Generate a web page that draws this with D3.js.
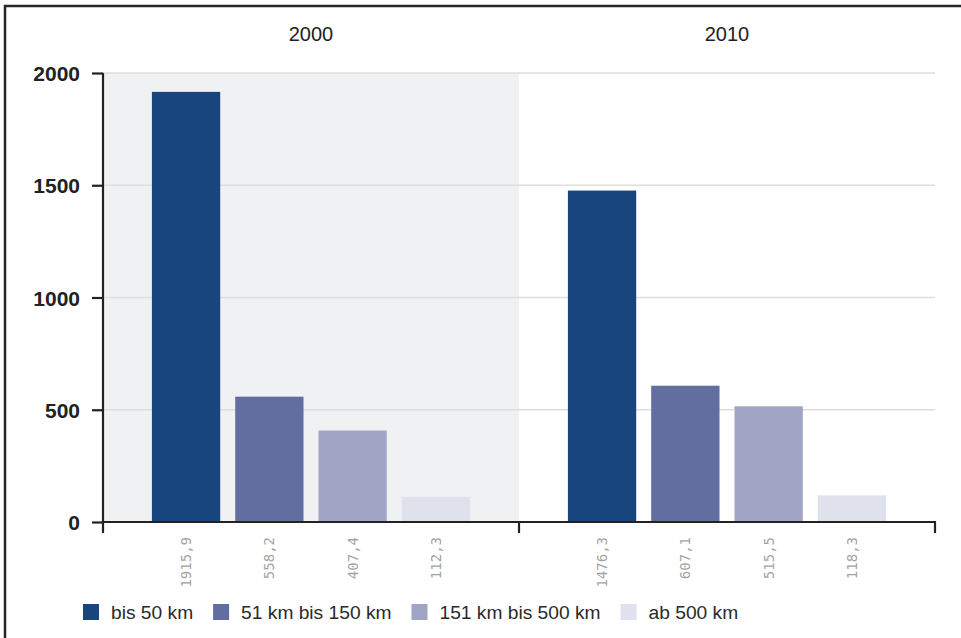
<!DOCTYPE html>
<html>
<head>
<meta charset="utf-8">
<script src="https://cdn.jsdelivr.net/npm/d3@7"></script>
<style>
  html, body { margin: 0; padding: 0; background: #fff; }
  svg { display: block; }
</style>
</head>
<body>
<svg id="chart" width="961" height="638"></svg>
<script>
// Pendlerdistanzen nach Jahr
const years = ["2000", "2010"];
const categories = ["bis 50 km", "51 km bis 150 km", "151 km bis 500 km", "ab 500 km"];
const values2000 = [1915.9, 558.2, 407.4, 112.3];
const values2010 = [1476.3, 607.1, 515.5, 118.3];
const yTicks = [0, 500, 1000, 1500, 2000];
const colors = ["#19457f", "#626e9f", "#a0a5c6", "#dfe1ec"];

const seriesByYear = { "2000": values2000, "2010": values2010 };

const svg = d3.select("#chart");
const plot = { left: 103, right: 935, top: 73, bottom: 522 };

// frame lines (top and left)
svg.append("path")
  .attr("d", "M5,638V6H961")
  .attr("fill", "none")
  .attr("stroke", "#262626")
  .attr("stroke-width", 2.5);

const x0 = d3.scaleBand().domain(years).range([plot.left, plot.right]);
const x1 = d3.scaleBand().domain(categories).range([0, x0.bandwidth()])
  .paddingInner(0.18).paddingOuter(0.587);
const y = d3.scaleLinear().domain([0, 2000]).range([plot.bottom, plot.top]);

// shaded first group
svg.append("rect")
  .attr("x", x0("2000")).attr("y", y(2000))
  .attr("width", x0.bandwidth()).attr("height", y(0) - y(2000))
  .attr("fill", "#f0f1f3");

// grid lines
svg.append("g")
  .selectAll("line")
  .data(yTicks.filter(d => d > 0))
  .join("line")
  .attr("x1", plot.left).attr("x2", plot.right)
  .attr("y1", d => y(d)).attr("y2", d => y(d))
  .attr("stroke", "#dcdde0").attr("stroke-width", 1.5);

// year headings
svg.append("g")
  .selectAll("text")
  .data(years)
  .join("text")
  .attr("x", d => x0(d) + x0.bandwidth() / 2)
  .attr("y", 41)
  .attr("text-anchor", "middle")
  .attr("font-family", "'Liberation Sans', Arial, sans-serif")
  .attr("font-size", 20)
  .attr("fill", "#222")
  .text(d => d);

// bars
const groups = svg.append("g")
  .selectAll("g")
  .data(years)
  .join("g")
  .attr("transform", d => `translate(${x0(d)},0)`);

groups.selectAll("rect")
  .data(yr => seriesByYear[yr].map((v, i) => ({ cat: categories[i], v, i })))
  .join("rect")
  .attr("x", d => x1(d.cat))
  .attr("y", d => y(d.v))
  .attr("width", x1.bandwidth())
  .attr("height", d => y(0) - y(d.v))
  .attr("fill", d => colors[d.i]);

// value labels under the axis
groups.selectAll("text")
  .data(yr => seriesByYear[yr].map((v, i) => ({ cat: categories[i], v })))
  .join("text")
  .attr("transform", d => `translate(${x1(d.cat) + x1.bandwidth() / 2 + 5},537) rotate(-90)`)
  .attr("text-anchor", "end")
  .attr("font-family", "'DejaVu Sans Mono', 'Liberation Mono', monospace")
  .attr("font-size", 14)
  .attr("fill", "#a3a3a3")
  .text(d => d3.format(".1f")(d.v).replace(".", ","));

// y axis
const yAxis = svg.append("g")
  .attr("transform", `translate(${plot.left},0)`)
  .call(d3.axisLeft(y).tickValues(yTicks).tickFormat(d3.format("d"))
    .tickSize(11).tickPadding(12).tickSizeOuter(0));
yAxis.select(".domain").remove();
yAxis.selectAll(".tick line").attr("stroke", "#222").attr("stroke-width", 2.2);
yAxis.selectAll(".tick text")
  .attr("font-family", "'Liberation Sans', Arial, sans-serif")
  .attr("font-weight", "bold")
  .attr("font-size", 21)
  .attr("fill", "#222")
  .attr("dy", "0.36em");

// vertical axis line
svg.append("line")
  .attr("x1", plot.left).attr("x2", plot.left)
  .attr("y1", y(2000)).attr("y2", plot.bottom + 11)
  .attr("stroke", "#222").attr("stroke-width", 2.2);

// zero line and group separators
svg.append("line")
  .attr("x1", plot.left).attr("x2", plot.right + 1)
  .attr("y1", y(0)).attr("y2", y(0))
  .attr("stroke", "#222").attr("stroke-width", 2.2);
svg.append("g")
  .selectAll("line")
  .data([x0("2010"), plot.right])
  .join("line")
  .attr("x1", d => d).attr("x2", d => d)
  .attr("y1", y(0) - 1).attr("y2", plot.bottom + 11)
  .attr("stroke", "#222").attr("stroke-width", 2.2);

// legend
const legend = svg.append("g").attr("transform", "translate(83,604)");
let lx = 0;
categories.forEach((c, i) => {
  const g = legend.append("g").attr("transform", `translate(${lx},0)`);
  g.append("rect").attr("width", 16).attr("height", 16).attr("fill", colors[i]);
  const t = g.append("text")
    .attr("x", 28).attr("y", 15)
    .attr("font-family", "'Liberation Sans', Arial, sans-serif")
    .attr("font-size", 19.2)
    .attr("fill", "#2a2a2a")
    .text(c);
  lx += 28 + t.node().getComputedTextLength() + 20;
});
</script>
</body>
</html>
